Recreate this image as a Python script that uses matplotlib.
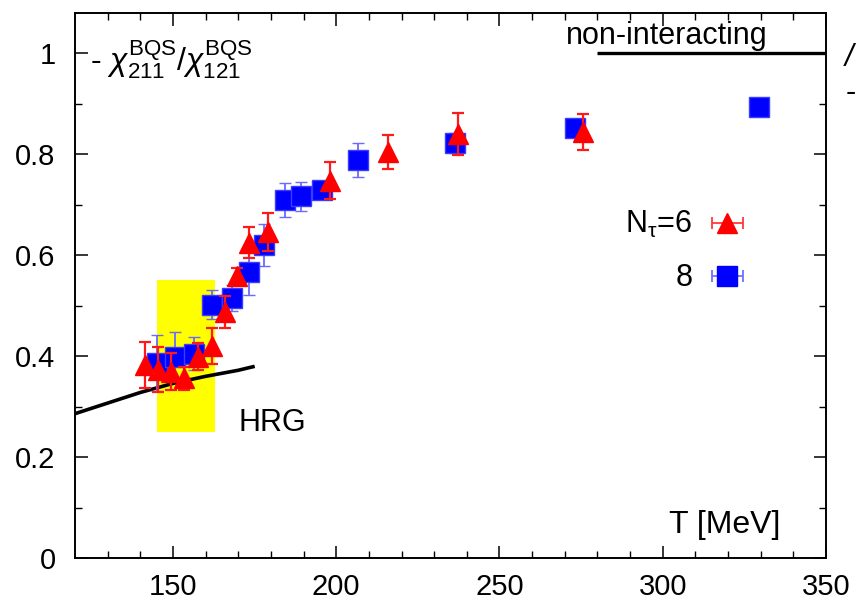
import numpy as np
import matplotlib
matplotlib.use('Agg')
import matplotlib.pyplot as plt

plt.rcParams['font.family'] = ['Liberation Sans', 'DejaVu Sans']
plt.rcParams['mathtext.fontset'] = 'custom'
plt.rcParams['mathtext.rm'] = 'Liberation Sans'
plt.rcParams['mathtext.it'] = 'Liberation Sans:italic'

# N_tau = 6 (red triangles)
T6 = [141.5, 145.3, 149.4, 153.4, 157.7, 162.0, 166.0, 169.7, 173.4, 179.0, 198.2, 215.8, 237.3, 275.7]
chi6 = [0.382, 0.373, 0.369, 0.356, 0.399, 0.420, 0.488, 0.558, 0.625, 0.646, 0.748, 0.805, 0.840, 0.844]
err6 = [0.046, 0.045, 0.037, 0.023, 0.027, 0.035, 0.032, 0.017, 0.031, 0.037, 0.036, 0.034, 0.041, 0.035]

# N_tau = 8 (blue squares)
T8 = [145.0, 150.6, 156.4, 161.9, 168.1, 173.2, 178.0, 184.4, 189.2, 195.5, 206.8, 236.5, 273.1, 329.5]
chi8 = [0.386, 0.399, 0.405, 0.502, 0.515, 0.566, 0.620, 0.710, 0.717, 0.730, 0.789, 0.823, 0.852, 0.893]
err8 = [0.055, 0.048, 0.032, 0.029, 0.026, 0.045, 0.042, 0.034, 0.029, 0.010, 0.034, 0.020, 0.010, 0.005]

# hadron resonance gas curve
T_hrg = [120, 130, 140, 150, 160, 170, 174.5]
chi_hrg = [0.286, 0.307, 0.328, 0.346, 0.360, 0.372, 0.379]

# transition region band
band_T = [145, 163]
band_chi = [0.25, 0.55]

# free limit
free_T = [280, 350]
free_chi = 1.0

fig = plt.figure(figsize=(8.57, 6.04), dpi=100)
ax = fig.add_axes([75/857, 46/604, 751/857, 545/604])

ax.fill_between(band_T, band_chi[0], band_chi[1], color='#ffff00', lw=0, zorder=1)
ax.plot(T_hrg, chi_hrg, color='black', lw=2.6, zorder=2)
ax.hlines(free_chi, free_T[0], free_T[1], color='black', lw=2.4, zorder=2)

ax.errorbar(T8, chi8, yerr=err8, fmt='s', ms=14, color='#0000ff', mec='#3c3cff', mew=1,
            ecolor='#6a6aff', elinewidth=1.3, capsize=4.5, capthick=1.3, zorder=3)
ax.errorbar(T6, chi6, yerr=err6, fmt='^', ms=14.5, color='#ff0000', mec='#ff0000',
            ecolor='#ff1a1a', elinewidth=1.6, capsize=4.5, capthick=1.6, zorder=4)

# legend proxies with horizontal bars
h6 = ax.errorbar([np.nan], [np.nan], xerr=[1], fmt='^', ms=14, color='#ff0000',
                 ecolor='#ff3a3a', elinewidth=1.3, capsize=4, capthick=1.3)
h8 = ax.errorbar([np.nan], [np.nan], xerr=[1], fmt='s', ms=14, color='#0000ff',
                 ecolor='#7070ff', elinewidth=1.3, capsize=4, capthick=1.3)
ax.legend([h6, h8], [r'N$_{\rm τ}$=6', '8'], loc='upper right', bbox_to_anchor=(0.891, 0.64),
          frameon=False, markerfirst=False, fontsize=22, handlelength=1.1,
          handletextpad=0.6, labelspacing=0.75, borderpad=0, borderaxespad=0)

ax.set_xlim(120, 350)
ax.set_ylim(0, 1.08)
ax.set_xticks([150, 200, 250, 300, 350])
ax.set_xticks(np.arange(130, 350, 10), minor=True)
ax.set_yticks([0, 0.2, 0.4, 0.6, 0.8, 1])
ax.set_yticklabels(['0', '0.2', '0.4', '0.6', '0.8', '1'])
ax.set_yticks(np.arange(0.1, 1.08, 0.2), minor=True)
ax.tick_params(which='both', direction='in', top=True, right=True, labelsize=21)
ax.tick_params(which='major', length=9, width=1.1)
ax.tick_params(which='minor', length=5, width=1.0)
ax.tick_params(axis='x', pad=11)
ax.tick_params(axis='y', pad=14)
for s in ax.spines.values():
    s.set_linewidth(1.4)

ax.text(0.02, 0.915, r'- $\chi^{\rm BQS}_{\rm 211}$/$\chi^{\rm BQS}_{\rm 121}$', transform=ax.transAxes,
        fontsize=23, ha='left', va='center')
ax.text(0.939, 0.06, 'T [MeV]', transform=ax.transAxes, fontsize=23, ha='right', va='center')
ax.text(170, 0.268, 'HRG', fontsize=22, ha='left', va='center')
ax.text(270.5, 1.035, 'non-interacting', fontsize=22, ha='left', va='center')

# pieces of the neighbouring panel cut by the edge
fig.text(845/857, 1 - 58/604, '/', fontsize=22, fontstyle='italic', ha='left', va='center')
fig.text(846/857, 1 - 93/604, '-', fontsize=22, ha='left', va='center')

plt.savefig('out.png', dpi=100)
